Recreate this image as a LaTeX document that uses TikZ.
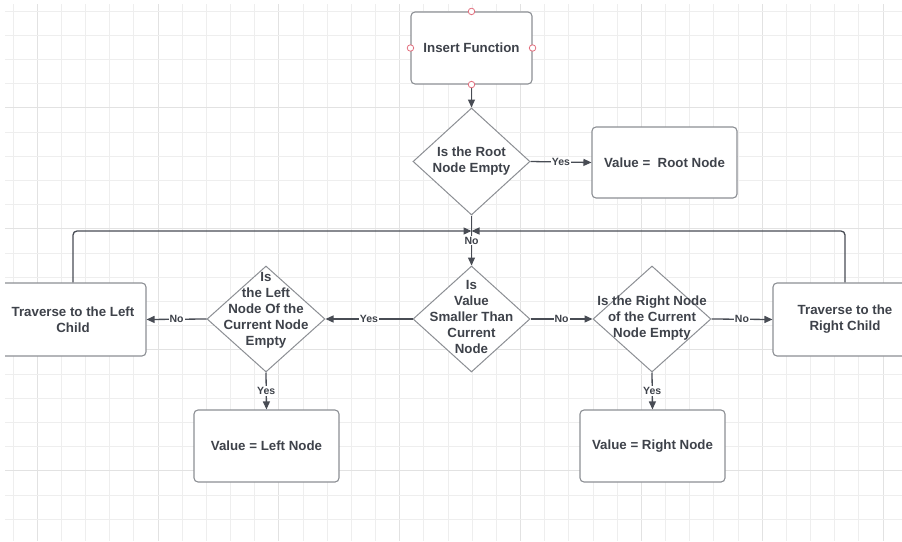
\documentclass[tikz,border=0pt]{standalone}
\usepackage{fontspec}
\setmainfont{Liberation Sans}
\usetikzlibrary{shapes.geometric,arrows.meta}
\definecolor{gridc}{RGB}{238,238,238}
\definecolor{gridm}{RGB}{226,226,226}
\definecolor{txtc}{RGB}{62,66,74}
\definecolor{bordc}{RGB}{140,143,148}
\definecolor{linec}{RGB}{72,76,84}
\definecolor{portc}{RGB}{226,110,125}
\begin{document}
\begin{tikzpicture}[x=1pt,y=-1pt,
  box/.style={draw=bordc, line width=1.1pt, rounded corners=4pt, fill=white, text=txtc,
    font=\bfseries\fontsize{13.3}{16}\selectfont, align=center, inner sep=0pt},
  dia/.style={draw=bordc, line width=1pt, diamond, fill=white, inner sep=0pt},
  dtext/.style={text=txtc, font=\bfseries\fontsize{13.3}{16}\selectfont, align=center, inner sep=0pt},
  conn/.style={draw=linec, line width=1.3pt, -{Triangle[length=8pt,width=7pt]}},
  lab/.style={fill=white, text=txtc, font=\bfseries\fontsize{10.5}{12}\selectfont, inner sep=1pt},
  port/.style={circle, draw=portc, fill=white, line width=0.8pt, minimum size=6.5pt, inner sep=0pt}
]
\useasboundingbox (0,0) rectangle (902,541);
\clip (5,0) rectangle (902,541);
% grid
\begin{scope}
\clip (5,4) rectangle (902,541);
\foreach \k in {0,...,36}{
  \pgfmathtruncatemacro\m{mod(\k,5)}
  \ifnum\m=1 \def\gc{gridm}\else\def\gc{gridc}\fi
  \draw[draw=\gc, line width=1pt] ({13+24.17*\k},4) -- ({13+24.17*\k},541);
}
\foreach \k in {0,...,21}{
  \pgfmathtruncatemacro\m{mod(\k,5)}
  \ifnum\m=4 \def\gc{gridm}\else\def\gc{gridc}\fi
  \draw[draw=\gc, line width=1pt] (5,{11+24.2*\k}) -- (902,{11+24.2*\k});
}
\end{scope}

% nodes
\node[box, minimum width=121pt, minimum height=72pt] (ins) at (471.5,48) {Insert Function};
\node[dia, minimum width=117pt, minimum height=107pt] (root) at (471.5,161.5) {};
\node[dtext] (roott) at (471.5,161) {Is the Root\\Node Empty};
\node[box, minimum width=145pt, minimum height=71pt] (rootv) at (664.5,162.5) {Value =\ \ Root Node};

\node[dia, minimum width=117pt, minimum height=106pt] (cmp) at (471.5,319) {};
\node[dtext] (cmpt) at (471.5,316.5) {Is\\Value\\Smaller Than\\Current\\Node};

\node[dia, minimum width=118pt, minimum height=106pt] (left) at (266,319) {};
\node[dtext] (leftt) at (266,310.5) {Is\\the Left\\Node Of the\\Current Node\\Empty};

\node[dia, minimum width=118pt, minimum height=106pt] (right) at (652,319) {};
\node[dtext] (rightt) at (652,318) {Is the Right Node\\of the Current\\Node Empty};

\node[box, minimum width=146pt, minimum height=73pt] (travL) at (73,319.5) {Traverse to the Left\\Child};
\node[box, minimum width=144pt, minimum height=73pt] (travR) at (845,319.5) {Traverse to the\\Right Child};

\node[box, minimum width=145pt, minimum height=72pt] (lv) at (266.5,446) {Value = Left Node};
\node[box, minimum width=145pt, minimum height=72pt] (rv) at (652.5,446) {Value = Right Node};

\coordinate (junc) at (471.5,231);

% connectors
\draw[conn] (ins.south) -- (root.north);
\draw[conn] (root.east) -- node[lab]{Yes} (rootv.west);
\draw[conn] (root.south) -- node[lab]{No} (cmp.north);
\draw[conn, rounded corners=4pt] (travL.north) |- (junc);
\draw[conn, rounded corners=4pt] (travR.north) |- (junc);
\draw[conn] (cmp.west) -- node[lab]{Yes} (left.east);
\draw[conn] (left.west) -- node[lab]{No} (travL.east);
\draw[conn] (cmp.east) -- node[lab]{No} (right.west);
\draw[conn] (right.east) -- node[lab]{No} (travR.west);
\draw[conn] (left.south) -- node[lab]{Yes} (lv.north);
\draw[conn] (right.south) -- node[lab]{Yes} (rv.north);

% ports on the start box
\node[port] (pn) at (ins.north) {};
\node[port] (ps) at (ins.south) {};
\node[port] (pw) at (ins.west) {};
\node[port] (pe) at (ins.east) {};
\end{tikzpicture}
\end{document}
